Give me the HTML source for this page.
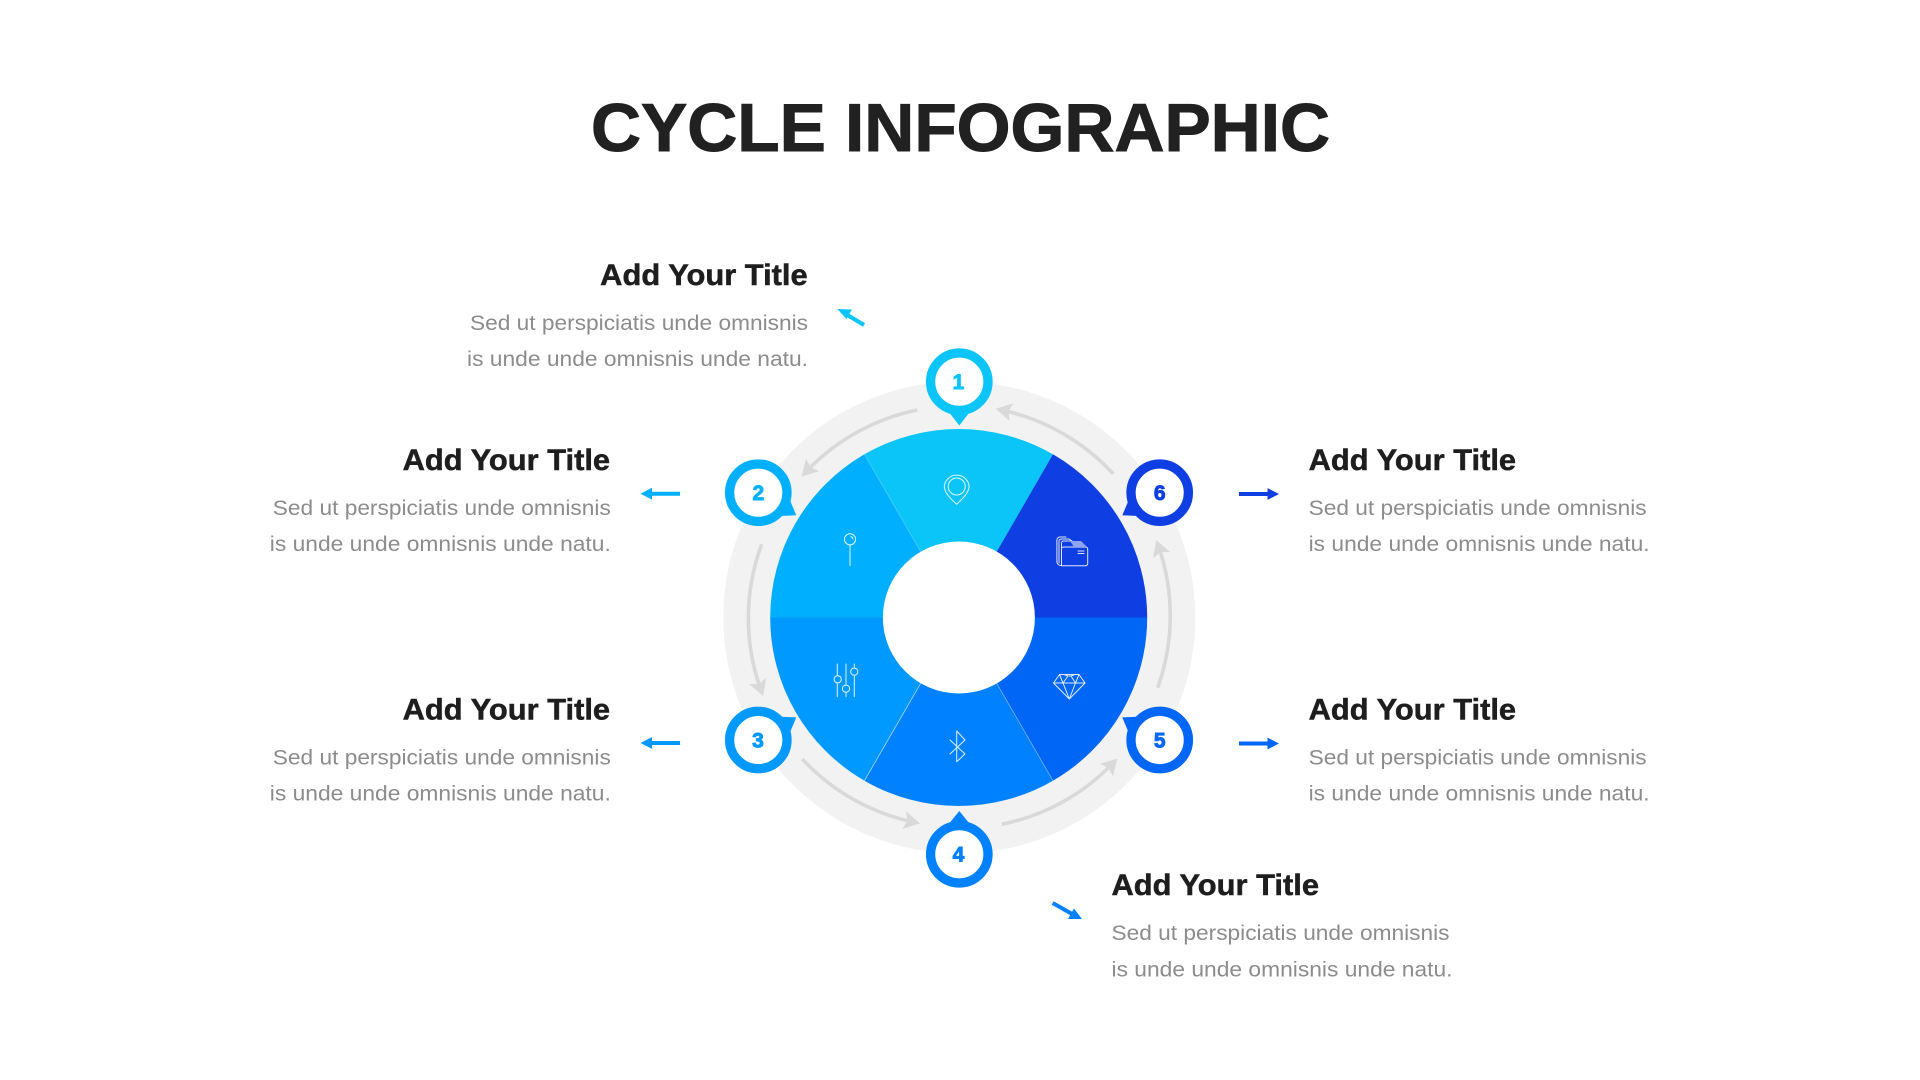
<!DOCTYPE html>
<html lang="en">
<head>
<meta charset="utf-8">
<title>Cycle Infographic</title>
<style>
html,body{margin:0;padding:0;background:#fff;width:1920px;height:1080px;overflow:hidden}
svg{display:block}
text{font-family:"Liberation Sans",sans-serif}
.h{font-size:29.5px;font-weight:700;fill:#1e1e1e;stroke:#1e1e1e;stroke-width:.5px}
.b{font-size:21.5px;fill:#8c8c8c}
.n{font-size:21px;font-weight:700;text-anchor:middle;stroke-width:.9px}
.ic{fill:none;stroke:#fff;stroke-width:1;stroke-linejoin:round;stroke-linecap:round;opacity:.88}
.ar{fill:none;stroke:#d9d9d9;stroke-width:3.6}
</style>
</head>
<body>
<svg width="1920" height="1080" viewBox="0 0 1920 1080" xmlns="http://www.w3.org/2000/svg">
<defs>
<marker id="head" markerUnits="userSpaceOnUse" viewBox="-18 -10 26 20" refX="-6" refY="0" markerWidth="26" markerHeight="20" orient="auto">
<polygon points="0,0 -16,-9 -13,0 -16,9" fill="#d9d9d9"/>
</marker>
</defs>
<rect width="1920" height="1080" fill="#fff"/>

<text x="591" y="151" font-size="68" font-weight="700" fill="#212121" stroke="#212121" stroke-width="1" textLength="739" lengthAdjust="spacingAndGlyphs">CYCLE INFOGRAPHIC</text>

<!-- ring -->
<circle cx="959.3" cy="617.5" r="236" fill="#f2f2f2"/>

<!-- cycle arrows -->
<path class="ar" marker-end="url(#head)" d="M917.3 410 A211 211 0 0 0 805.7 472.2"/>
<path class="ar" marker-end="url(#head)" d="M761.7 544.3 A211 211 0 0 0 761.1 690.4"/>
<path class="ar" marker-end="url(#head)" d="M802.3 759 A211 211 0 0 0 914.1 822.2"/>
<path class="ar" marker-end="url(#head)" d="M1001.7 824.3 A211 211 0 0 0 1113.3 762.8"/>
<path class="ar" marker-end="url(#head)" d="M1157.7 687.7 A211 211 0 0 0 1158.2 545.6"/>
<path class="ar" marker-end="url(#head)" d="M1113.3 474 A211 211 0 0 0 1001.6 410"/>

<!-- pie -->
<path fill="#0bc5f9" d="M958.7 617.5 L864.45 454.3 A188.5 188.5 0 0 1 1052.95 454.3Z"/>
<path fill="#00b0ff" d="M958.7 617.5 L770.2 617.5 A188.5 188.5 0 0 1 864.45 454.3Z"/>
<path fill="#0099ff" d="M958.7 617.5 L864.45 780.7 A188.5 188.5 0 0 1 770.2 617.5Z"/>
<path fill="#0081ff" d="M958.7 617.5 L1052.95 780.7 A188.5 188.5 0 0 1 864.45 780.7Z"/>
<path fill="#0066f5" d="M958.7 617.5 L1147.2 617.5 A188.5 188.5 0 0 1 1052.95 780.7Z"/>
<path fill="#0f3fe3" d="M958.7 617.5 L1052.95 454.3 A188.5 188.5 0 0 1 1147.2 617.5Z"/>
<path d="M958.7 617.5 L864.45 780.7" stroke="#fff" stroke-opacity=".6" stroke-width=".8"/>
<path d="M958.7 617.5 L1052.95 780.7" stroke="#fff" stroke-opacity=".4" stroke-width=".8"/>
<path d="M958.7 617.5 L864.45 454.3" stroke="#fff" stroke-opacity=".2" stroke-width=".8"/>
<circle cx="958.9" cy="617.5" r="76" fill="#fff"/>

<!-- icons -->
<g class="ic">
<path d="M956.7 504.3 C951 499 944.3 493 944.3 486 A12.5 12.5 0 0 1 969.1 486 C969.1 493 962 499 956.7 504.3Z"/>
<circle cx="956.7" cy="486.5" r="8.5"/>
<circle cx="850" cy="539.3" r="5.6"/>
<path d="M850 545 V565.7"/>
<path d="M851 536.5 A3.5 3.5 0 0 1 853 539"/>
<path d="M837.3 664 V675.5 M837.3 683 V696.7 M846 664 V685 M846 692.5 V696.7 M854.3 664 V668 M854.3 675.5 V696.7"/>
<circle cx="837.7" cy="679.3" r="3.6"/>
<circle cx="846" cy="688.7" r="3.6"/>
<circle cx="854.3" cy="671.7" r="3.6"/>
<path d="M950 740 L965 754 L956.7 761.7 V731 L965 740 L950 754"/>
<path d="M1059.5 674.5 H1079 L1085 683 L1069.3 699 L1053.5 683Z"/>
<path d="M1053.5 683 H1085 M1059.5 674.5 L1063 683 L1069.3 699 L1075.5 683 L1079 674.5 M1063 683 L1068 676 L1071 676 L1075.5 683 M1068 676 L1064 674.5 M1071 676 L1075 674.5"/>
<path d="M1061.5 565.7 H1085.5 A2 2 0 0 0 1087.7 563.7 V549 A2 2 0 0 0 1085.5 547 H1063.5 A2 2 0 0 0 1061.5 549Z" />
<path d="M1061.5 548 V543 A2 2 0 0 1 1063.5 541 H1072"/>
<path d="M1059 563 V541 A2.5 2.5 0 0 1 1061.5 539 H1069 L1072 541"/>
<path d="M1061 565.5 A4 4 0 0 1 1056.9 561 V540 A3 3 0 0 1 1060 537 H1066"/>
<path d="M1078 551 H1084 M1078 553.5 H1084"/>
</g>
<polygon points="1070,541 1081,541 1087,547 1074,547" fill="#8ea4f2"/>

<!-- bubbles -->
<g>
<polygon points="950,413.5 968.6,413.5 959.3,425.5" fill="#0bc5f9"/>
<circle cx="959.3" cy="381.7" r="28.7" fill="#fff" stroke="#0bc5f9" stroke-width="9.3"/>
<text class="n" x="958.5" y="389" fill="#0bc5f9" stroke="#0bc5f9">1</text>

<polygon points="780,516 796.3,515.3 789,498" fill="#00b0ff"/>
<circle cx="758.3" cy="492.7" r="28.7" fill="#fff" stroke="#00b0ff" stroke-width="9.3"/>
<text class="n" x="758.3" y="500" fill="#00b0ff" stroke="#00b0ff">2</text>

<polygon points="780,716.7 796.3,717.4 789,734.7" fill="#0099ff"/>
<circle cx="758.3" cy="740" r="28.7" fill="#fff" stroke="#0099ff" stroke-width="9.3"/>
<text class="n" x="758" y="747.5" fill="#0099ff" stroke="#0099ff">3</text>

<polygon points="950,822.5 968.6,822.5 959.3,811" fill="#0081ff"/>
<circle cx="959.3" cy="854.3" r="28.7" fill="#fff" stroke="#0081ff" stroke-width="9.3"/>
<text class="n" x="958.5" y="861.7" fill="#0081ff" stroke="#0081ff">4</text>

<polygon points="1138.6,716.7 1122.3,717.4 1129.6,734.7" fill="#0066f5"/>
<circle cx="1159.7" cy="740" r="28.7" fill="#fff" stroke="#0066f5" stroke-width="9.3"/>
<text class="n" x="1159.7" y="747.5" fill="#0066f5" stroke="#0066f5">5</text>

<polygon points="1138.6,516 1122.3,515.3 1129.6,498" fill="#0f3fe3"/>
<circle cx="1159.7" cy="492.7" r="28.7" fill="#fff" stroke="#0f3fe3" stroke-width="9.3"/>
<text class="n" x="1159.7" y="500" fill="#0f3fe3" stroke="#0f3fe3">6</text>
</g>

<!-- small arrows -->
<g stroke-width="4" fill="none">
<path d="M864 325 L844 313" stroke="#0bc5f9"/>
<polygon points="837.3,309 852,309.5 846.5,319" fill="#0bc5f9"/>
<path d="M680 493.7 H650" stroke="#00b0ff"/>
<polygon points="640.5,493.7 652,487.8 652,499.6" fill="#00b0ff"/>
<path d="M680 743 H650" stroke="#0099ff"/>
<polygon points="640.5,743 652,737.1 652,748.9" fill="#0099ff"/>
<path d="M1239 494 H1269" stroke="#0f3fe3"/>
<polygon points="1279,494 1267.5,488.1 1267.5,499.9" fill="#0f3fe3"/>
<path d="M1239 743.5 H1269" stroke="#0066f5"/>
<polygon points="1279,743.5 1267.5,737.6 1267.5,749.4" fill="#0066f5"/>
<path d="M1052.7 903 L1073 914.5" stroke="#0081ff"/>
<polygon points="1082,919 1068,919 1074,908.5" fill="#0081ff"/>
</g>

<!-- labels -->
<text class="h" x="600.2" y="285" textLength="207.5" lengthAdjust="spacingAndGlyphs">Add Your Title</text>
<text class="b" x="470" y="330" textLength="338" lengthAdjust="spacingAndGlyphs">Sed ut perspiciatis unde omnisnis</text>
<text class="b" x="467" y="366" textLength="341" lengthAdjust="spacingAndGlyphs">is unde unde omnisnis unde natu.</text>

<text class="h" x="402.6" y="470" textLength="207.5" lengthAdjust="spacingAndGlyphs">Add Your Title</text>
<text class="b" x="272.8" y="515" textLength="338" lengthAdjust="spacingAndGlyphs">Sed ut perspiciatis unde omnisnis</text>
<text class="b" x="269.8" y="551" textLength="341" lengthAdjust="spacingAndGlyphs">is unde unde omnisnis unde natu.</text>

<text class="h" x="402.6" y="719.5" textLength="207.5" lengthAdjust="spacingAndGlyphs">Add Your Title</text>
<text class="b" x="272.8" y="764.5" textLength="338" lengthAdjust="spacingAndGlyphs">Sed ut perspiciatis unde omnisnis</text>
<text class="b" x="269.8" y="800.5" textLength="341" lengthAdjust="spacingAndGlyphs">is unde unde omnisnis unde natu.</text>

<text class="h" x="1308.6" y="470" textLength="207.5" lengthAdjust="spacingAndGlyphs">Add Your Title</text>
<text class="b" x="1308.6" y="515" textLength="338" lengthAdjust="spacingAndGlyphs">Sed ut perspiciatis unde omnisnis</text>
<text class="b" x="1308.6" y="551" textLength="341" lengthAdjust="spacingAndGlyphs">is unde unde omnisnis unde natu.</text>

<text class="h" x="1308.6" y="719.5" textLength="207.5" lengthAdjust="spacingAndGlyphs">Add Your Title</text>
<text class="b" x="1308.6" y="764.5" textLength="338" lengthAdjust="spacingAndGlyphs">Sed ut perspiciatis unde omnisnis</text>
<text class="b" x="1308.6" y="800.5" textLength="341" lengthAdjust="spacingAndGlyphs">is unde unde omnisnis unde natu.</text>

<text class="h" x="1111.5" y="895" textLength="207.5" lengthAdjust="spacingAndGlyphs">Add Your Title</text>
<text class="b" x="1111.5" y="940" textLength="338" lengthAdjust="spacingAndGlyphs">Sed ut perspiciatis unde omnisnis</text>
<text class="b" x="1111.5" y="976.5" textLength="341" lengthAdjust="spacingAndGlyphs">is unde unde omnisnis unde natu.</text>
</svg>
</body>
</html>
